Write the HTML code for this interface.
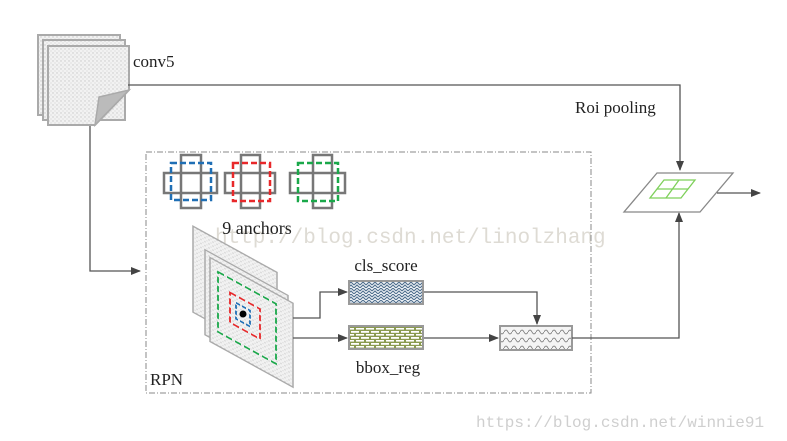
<!DOCTYPE html>
<html><head><style>body{margin:0;background:#fff}svg{display:block}</style></head><body>
<svg width="787" height="441" viewBox="0 0 787 441" xmlns="http://www.w3.org/2000/svg" font-family="Liberation Serif, serif">
<defs>
<pattern id="dots" width="4" height="4" patternUnits="userSpaceOnUse"><rect width="4" height="4" fill="#f2f2f2"/><circle cx="1" cy="1" r="0.7" fill="#c8c8c8"/><circle cx="3" cy="3" r="0.6" fill="#d4d4d4"/></pattern>
<pattern id="cls" width="6" height="6" patternUnits="userSpaceOnUse"><rect width="6" height="6" fill="#eef2f6"/><path d="M0 3 L3 0 L6 3 M0 6 L3 3 L6 6" stroke="#4a6a8a" stroke-width="1" fill="none"/></pattern>
<pattern id="brick" width="10" height="6" patternUnits="userSpaceOnUse"><rect width="10" height="6" fill="#8a9a50"/><rect x="1" y="1" width="8" height="1.8" fill="#fff"/><rect x="-4" y="4" width="8" height="1.6" fill="#fff"/><rect x="6" y="4" width="8" height="1.6" fill="#fff"/></pattern>
<pattern id="wave" width="8" height="8" patternUnits="userSpaceOnUse"><rect width="8" height="8" fill="#f4f4f4"/><path d="M0 4 Q2 0 4 4 T8 4" stroke="#777" stroke-width="0.8" fill="none"/></pattern>
<marker id="ar" markerWidth="10" markerHeight="8" refX="9" refY="4" orient="auto" markerUnits="userSpaceOnUse"><path d="M0 0 L10 4 L0 8 z" fill="#444"/></marker>
</defs>
<text x="215" y="243" font-family="Liberation Mono, monospace" font-size="21" fill="#dedbd4">http://blog.csdn.net/linolzhang</text>
<text x="476" y="427" font-family="Liberation Mono, monospace" font-size="16" fill="#cfcfcf">https://blog.csdn.net/winnie91</text>
<rect x="38" y="35" width="82" height="80" fill="url(#dots)" stroke="#aaa" stroke-width="2"/>
<rect x="43" y="40" width="82" height="80" fill="url(#dots)" stroke="#aaa" stroke-width="2"/>
<path d="M48 46 H129 V90 L95 125 H48 Z" fill="url(#dots)" stroke="#aaa" stroke-width="2"/>
<path d="M129 90 L95 125 L99 97 Z" fill="#bbb" stroke="#aaa" stroke-width="1.5"/>
<text x="133" y="67" font-size="17" fill="#222">conv5</text>
<text x="575" y="113" font-size="17" fill="#222">Roi pooling</text>
<polyline points="128,85 680,85 680,170" fill="none" stroke="#555" stroke-width="1.3" marker-end="url(#ar)"/>
<polyline points="90,126 90,271 140,271" fill="none" stroke="#555" stroke-width="1.3" marker-end="url(#ar)"/>
<rect x="146" y="152" width="445" height="241" fill="none" stroke="#888" stroke-width="1" stroke-dasharray="6,2,1,2"/>
<g fill="none" stroke-width="2.5">
<rect x="181" y="155" width="20" height="53" stroke="#777"/><rect x="164" y="173" width="53" height="20" stroke="#777"/><rect x="171" y="163" width="40" height="37" stroke="#1f6fb5" stroke-dasharray="6,3"/>
<rect x="241" y="155" width="19" height="53" stroke="#777"/><rect x="225" y="173" width="50" height="20" stroke="#777"/><rect x="233" y="163" width="37" height="38" stroke="#e8282a" stroke-dasharray="6,3"/>
<rect x="313" y="155" width="19" height="53" stroke="#777"/><rect x="290" y="173" width="55" height="20" stroke="#777"/><rect x="298" y="163" width="40" height="38" stroke="#1aa84a" stroke-dasharray="6,3"/>
</g>
<text x="257" y="234" font-size="18" fill="#222" text-anchor="middle">9 anchors</text>
<g transform="matrix(1,0.55,0,1,0,0)">
<rect x="193" y="120" width="84" height="86" fill="url(#dots)" stroke="#aaa" stroke-width="1.5"/>
<rect x="205" y="137" width="83" height="85" fill="url(#dots)" stroke="#aaa" stroke-width="1.5"/>
<rect x="210" y="142" width="83" height="84" fill="url(#dots)" stroke="#aaa" stroke-width="1.5"/>
<rect x="218" y="152" width="58" height="60" fill="none" stroke="#1aa84a" stroke-width="1.8" stroke-dasharray="6,3"/>
<rect x="230" y="166" width="30" height="30" fill="none" stroke="#e8282a" stroke-width="1.8" stroke-dasharray="6,3"/>
<rect x="236" y="173" width="14" height="16" fill="none" stroke="#1f6fb5" stroke-width="1.8" stroke-dasharray="4,2"/>
</g>
<circle cx="243" cy="314" r="3.5" fill="#000"/>
<text x="150" y="385" font-size="17" fill="#222">RPN</text>
<text x="386" y="271" font-size="17" fill="#222" text-anchor="middle">cls_score</text>
<rect x="349" y="281" width="74" height="23" fill="url(#cls)" stroke="#999" stroke-width="2"/>
<rect x="349" y="326" width="74" height="23" fill="url(#brick)" stroke="#999" stroke-width="2"/>
<text x="388" y="373" font-size="17" fill="#222" text-anchor="middle">bbox_reg</text>
<polyline points="293,318 320,318 320,292 347,292" fill="none" stroke="#555" stroke-width="1.3" marker-end="url(#ar)"/>
<polyline points="293,338 347,338" fill="none" stroke="#555" stroke-width="1.3" marker-end="url(#ar)"/>
<polyline points="424,292 537,292 537,324" fill="none" stroke="#555" stroke-width="1.3" marker-end="url(#ar)"/>
<polyline points="424,338 498,338" fill="none" stroke="#555" stroke-width="1.3" marker-end="url(#ar)"/>
<rect x="500" y="326" width="72" height="24" fill="url(#wave)" stroke="#999" stroke-width="2"/>
<polyline points="572,338 679,338 679,213" fill="none" stroke="#555" stroke-width="1.3" marker-end="url(#ar)"/>
<polygon points="657,173 733,173 700,212 624,212" fill="#fff" stroke="#888" stroke-width="1.3"/>
<polygon points="664,180 695,180 681,198 650,198" fill="none" stroke="#7ed05a" stroke-width="1.3"/>
<line x1="657" y1="189" x2="688" y2="189" stroke="#7ed05a" stroke-width="1.3"/>
<line x1="679" y1="180" x2="666" y2="198" stroke="#7ed05a" stroke-width="1.3"/>
<polyline points="717,193 760,193" fill="none" stroke="#555" stroke-width="1.3" marker-end="url(#ar)"/>
</svg>
</body></html>
